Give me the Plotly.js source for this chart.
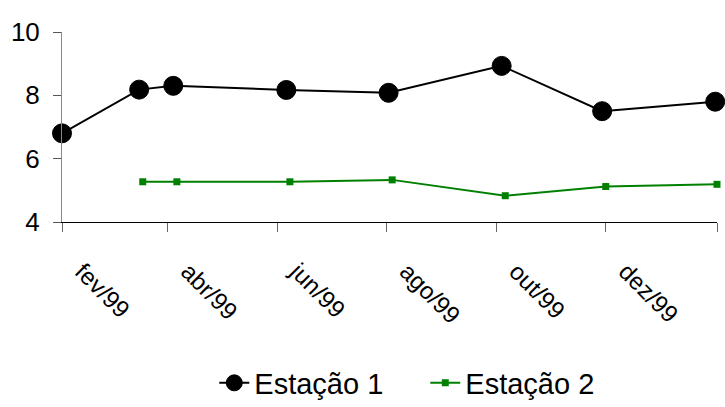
<!DOCTYPE html>
<html>
<head>
<meta charset="utf-8">
<script src="https://cdn.plot.ly/plotly-3.0.1.min.js"></script>
<style>html,body{margin:0;padding:0;background:#fff;}#chart{width:725px;height:407px;}</style>
</head>
<body>
<div id="chart"></div>
<script>
// Estação 1
const datesE1 = ['1999-02-01','1999-03-16','1999-04-04','1999-06-06','1999-08-02','1999-10-04','1999-11-29','2000-01-31'];
const valuesE1 = [6.80, 8.18, 8.30, 8.17, 8.08, 8.93, 7.50, 7.80];
// Estação 2
const datesE2 = ['1999-03-18','1999-04-06','1999-06-08','1999-08-04','1999-10-06','1999-12-01','2000-02-01'];
const valuesE2 = [5.27, 5.27, 5.27, 5.33, 4.83, 5.12, 5.19];
// ticks
const tickDates = ['1999-02-01','1999-04-01','1999-06-01','1999-08-01','1999-10-01','1999-12-01','2000-02-01'];
const tickLabels = ['fev/99','abr/99','jun/99','ago/99','out/99','dez/99',''];
const yTicks = [4, 6, 8, 10];

const font = 'Liberation Sans, Arial, sans-serif';

const traces = [
  {
    x: datesE1, y: valuesE1, name: 'Estação 1', type: 'scatter', mode: 'lines+markers',
    line: {color: '#000000', width: 2},
    marker: {symbol: 'circle', size: 19, color: '#000000', line: {color: '#000000', width: 1}},
    cliponaxis: false
  },
  {
    x: datesE2, y: valuesE2, name: 'Estação 2', type: 'scatter', mode: 'lines+markers',
    line: {color: '#008000', width: 2},
    marker: {symbol: 'square', size: 7, color: '#008000'},
    cliponaxis: false
  }
];

const layout = {
  width: 725, height: 407,
  margin: {l: 62, r: 8, t: 32, b: 185, autoexpand: false},
  paper_bgcolor: '#ffffff', plot_bgcolor: '#ffffff',
  font: {family: font, color: '#000000'},
  showlegend: true,
  legend: {orientation: 'h', x: 0.2325, xanchor: 'left', yref: 'container', y: 0.059, yanchor: 'middle',
           font: {size: 29, family: font, color: '#000'}, itemwidth: 30,
           entrywidth: 166, entrywidthmode: 'pixels'},
  xaxis: {
    type: 'date', range: ['1999-02-01', '2000-02-01'],
    tickmode: 'array', tickvals: tickDates, ticktext: tickLabels,
    tickangle: 45, tickfont: {size: 24, family: font, color: '#000'},
    ticks: 'outside', ticklen: 9, tickcolor: '#666666', tickwidth: 1,
    showline: true, linecolor: '#000000', linewidth: 1,
    showgrid: false, zeroline: false,
    ticklabelstandoff: 16, ticklabelshift: 20
  },
  yaxis: {
    range: [4, 10], tickmode: 'array', tickvals: yTicks,
    tickfont: {size: 26, family: font, color: '#000'},
    ticks: 'outside', ticklen: 8, tickcolor: '#555555', tickwidth: 1,
    showline: true, linecolor: '#888888', linewidth: 1,
    showgrid: false, zeroline: false, ticklabelstandoff: 8
  }
};

Plotly.newPlot('chart', traces, layout, {displayModeBar: false, staticPlot: true});
</script>
</body>
</html>
